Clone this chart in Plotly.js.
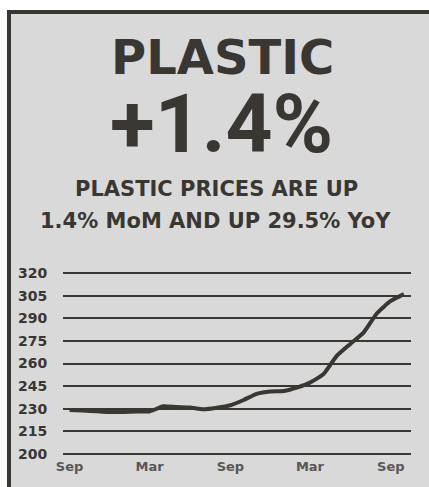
<!DOCTYPE html>
<html>
<head>
<meta charset="utf-8">
<script src="https://cdn.plot.ly/plotly-3.0.1.min.js"></script>
<style>
  html, body { margin: 0; padding: 0; background: #fff; }
  #frame {
    position: absolute; left: 7px; top: 10px;
    width: 422px; height: 477px; box-sizing: border-box;
    border-top: 4px solid #3a3632; border-left: 4px solid #3a3632;
    background: #d9d9d9;
  }
  #chart { width: 418px; height: 473px; }
</style>
</head>
<body>
<div id="frame"><div id="chart"></div></div>
<script>
// monthly plastic price index, Sep 2019 .. Oct 2021
const months = [
  "2019-09-01", "2019-10-01", "2019-11-01", "2019-12-01", "2020-01-01", "2020-02-01",
  "2020-03-01", "2020-04-01", "2020-05-01", "2020-06-01", "2020-07-01", "2020-08-01",
  "2020-09-01", "2020-10-01", "2020-11-01", "2020-12-01", "2021-01-01", "2021-02-01",
  "2021-03-01", "2021-04-01", "2021-05-01", "2021-06-01", "2021-07-01", "2021-08-01",
  "2021-09-01", "2021-10-01"
];
const prices = [
  229.2, 228.8, 228.3, 227.8, 227.9, 228.2,
  228.2, 231.6, 231.1, 230.8, 229.6, 230.6,
  232.3, 235.8, 240.0, 241.5, 241.8, 244.2,
  247.3, 253.0, 265.0, 273.0, 280.5, 293.5,
  301.5, 306.0
];
const xTickVals = ["2019-09-01", "2020-03-01", "2020-09-01", "2021-03-01", "2021-09-01"];
const xTickText = ["Sep", "Mar", "Sep", "Mar", "Sep"];
const yTickVals = [200, 215, 230, 245, 260, 275, 290, 305, 320];

const headline = "PLASTIC";
const change = "+1.4%";
const subLine1 = "PLASTIC PRICES ARE UP";
const subLine2 = "1.4% MoM AND UP 29.5% YoY";

const ink = "#3a3632";

const data = [{
  x: months,
  y: prices,
  type: "scatter",
  mode: "lines",
  line: { color: ink, width: 4, shape: "spline", smoothing: 0.5 },
  hoverinfo: "skip"
}];

const layout = {
  width: 418,
  height: 473,
  margin: { l: 52, r: 18, t: 256, b: 30 },
  paper_bgcolor: "rgba(0,0,0,0)",
  plot_bgcolor: "rgba(0,0,0,0)",
  showlegend: false,
  xaxis: {
    type: "date",
    range: ["2019-08-17", "2021-10-17"],
    tickvals: xTickVals,
    ticktext: xTickText,
    showgrid: false,
    zeroline: false,
    showline: false,
    ticks: "",
    tickfont: { family: "DejaVu Sans", size: 13, color: "#5a5755", weight: "bold" }
  },
  yaxis: {
    range: [198, 322],
    tickvals: yTickVals,
    showgrid: true,
    gridcolor: ink,
    gridwidth: 2,
    zeroline: false,
    showline: false,
    ticks: "outside",
    ticklen: 12,
    tickcolor: "rgba(0,0,0,0)",
    tickfont: { family: "DejaVu Sans", size: 14, color: ink, weight: "bold" }
  },
  // boxes get explicit heights so the big lines don't collide
  annotations: [
    { text: headline, x: 0.458, y: 2.139, height: 42, font: { family: "DejaVu Sans", size: 48, color: ink, weight: "bold" } },
    { text: change, x: 0.455, y: 1.783, height: 66, font: { family: "Roboto", size: 82, color: ink, weight: "bold" } },
    { text: subLine1, x: 0.441, y: 1.432, height: 24, font: { family: "DejaVu Sans", size: 21, color: ink, weight: "bold" } },
    { text: subLine2, x: 0.437, y: 1.261, height: 24, font: { family: "DejaVu Sans", size: 21, color: ink, weight: "bold" } }
  ].map((a) => Object.assign({
    xref: "paper", yref: "paper", xanchor: "center", yanchor: "middle", showarrow: false
  }, a))
};

Plotly.newPlot("chart", data, layout, { staticPlot: true, displayModeBar: false });
</script>
</body>
</html>
